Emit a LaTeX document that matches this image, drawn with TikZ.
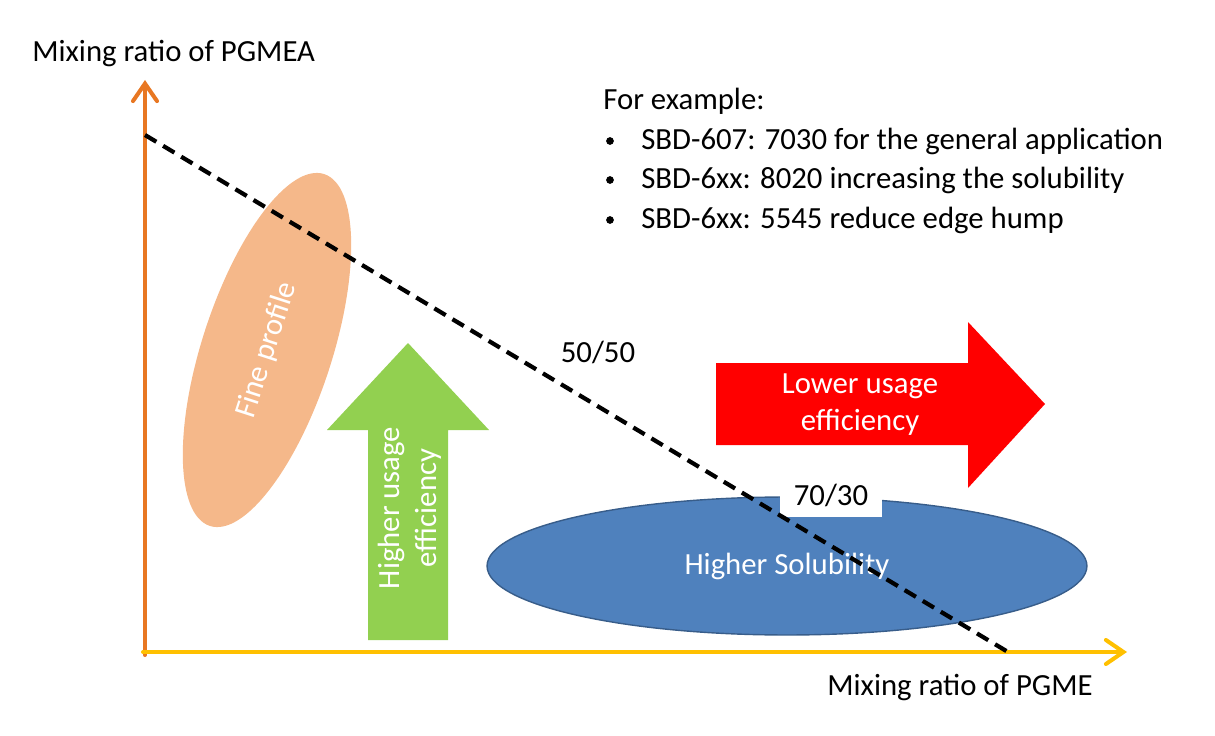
\documentclass[tikz,border=0pt]{standalone}
\usepackage{fontspec}
\setmainfont{Carlito}
\usetikzlibrary{arrows.meta,shapes.geometric}

\definecolor{axisorange}{RGB}{232,119,34}
\definecolor{axisgold}{RGB}{255,192,0}
\definecolor{peach}{RGB}{245,184,138}
\definecolor{leafgreen}{RGB}{146,208,80}
\definecolor{solblue}{RGB}{79,129,189}
\definecolor{solblueedge}{RGB}{56,93,138}

\tikzset{
  axisline/.style={line width=2.3pt, line cap=round,
    -{Straight Barb[length=3.5mm,width=4.8mm,line cap=round]}},
  blob/.style={ellipse, inner sep=0pt, text=white, align=center},
  txt/.style={font=\fontsize{17.5}{21}\selectfont, align=center},
  plain/.style={inner sep=0pt}
}

\begin{document}
\begin{tikzpicture}[x=0.02cm,y=0.02cm, every node/.style={txt}]
        \useasboundingbox (0,0) rectangle (1215,735);

        % Axes
        \coordinate (O) at (145,83);
        \coordinate (ytop) at (145,655);
        \coordinate (xend) at (1127,83);
        \draw[axisline, axisorange] (145,80) -- (ytop);
        \draw[axisline, axisgold] (143,83) -- (xend);
        \node[plain, anchor=base west] (ylabel) at (32,673) {Mixing ratio of PGMEA};
        \node[plain, anchor=base east] (xlabel) at (1093,40) {Mixing ratio of PGME};

        % Regions
        \node[blob, fill=peach, minimum width=7.4cm, minimum height=2.6cm,
              rotate=72] (fine) at (267,385) {Fine profile};
        \node[blob, fill=solblue, draw=solblueedge, line width=0.8pt,
              minimum width=12cm, minimum height=2.76cm] (sol) at (787,169)
              {Higher Solubility};

        % Arrows
        \fill[leafgreen] (368,95) -- (368,305) -- (327,305) -- (408,392)
              -- (489,305) -- (448,305) -- (448,95) -- cycle;
        \node[text=white, rotate=90] (higher) at (410,227)
              {Higher usage\\efficiency};
        \fill[red] (716,290) -- (716,372) -- (968,372) -- (968,413)
              -- (1045,331) -- (968,247) -- (968,290) -- cycle;
        \node[text=white] (lower) at (860,330) {Lower usage\\efficiency};

        % Ratio labels
        \node[fill=white, inner sep=0pt, minimum width=2.04cm,
              minimum height=0.9cm] (r7030) at (831,240) {70/30};
        \node (r5050) at (598,383) {50/50};

        % Diagonal
        \coordinate (d1) at (145,600);
        \coordinate (d2) at (1008,83);
        \draw[line width=2.4pt, dash pattern=on 7.5pt off 4.5pt] (d1) -- (d2);

        % Examples
        \node[plain, anchor=base west] (ex) at (603,625) {For example:};
        \node[plain, anchor=base west] (b1) at (641,585) {SBD-607: 7030 for the general application};
        \node[plain, anchor=base west] (b2) at (641,546) {SBD-6xx: 8020 increasing the solubility};
        \node[plain, anchor=base west] (b3) at (641,506) {SBD-6xx: 5545 reduce edge hump};
        \foreach \b in {b1,b2,b3}
          \fill (610,0 |- \b.base) ++(0,9) circle (2.2pt);
\end{tikzpicture}
\end{document}
